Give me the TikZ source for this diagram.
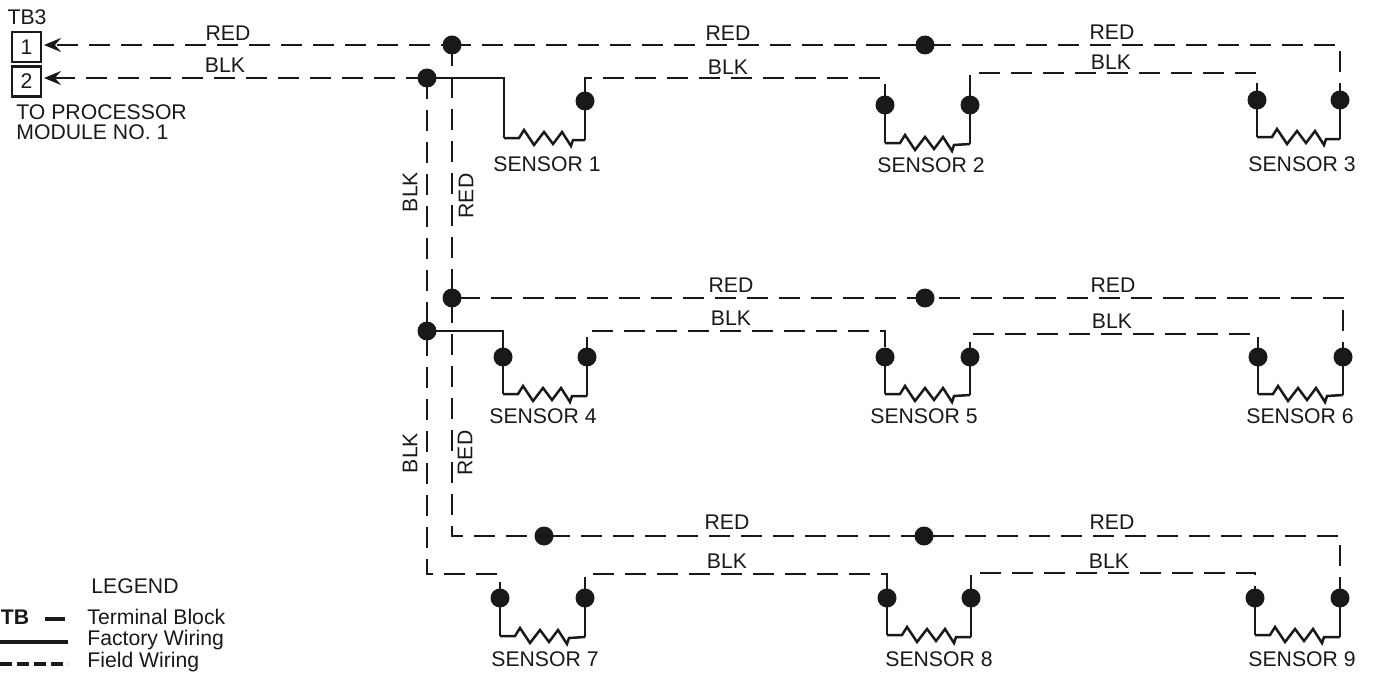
\documentclass[tikz,border=0pt]{standalone}
\usepackage{fontspec}
\setmainfont{Liberation Sans}
\usetikzlibrary{arrows.meta}

\begin{document}
\begin{tikzpicture}[x=0.5pt,y=-0.5pt]
\tikzstyle{every node}+=[inner sep=0pt,font=\fontsize{10.6}{12}\selectfont,text=black!90]
\tikzstyle{dot}=[circle,fill=black!90,minimum size=9.5pt]
\tikzstyle{tbox}=[draw=black!90,line width=1.2pt,minimum width=14.5pt,minimum height=15pt]
\tikzstyle{factory}=[draw=black!90,line width=1.25pt]
\tikzstyle{field}=[factory,dash pattern=on 10.67pt off 5.33pt]
\tikzstyle{legendline}=[draw=black!90,line width=1.6pt]
\tikzstyle{resistor}=[factory,to path={-- ++(15,0) -- ++(5,-8) -- ++(10,15) -- ++(10,-13) -- ++(9,12) -- ++(9,-12) -- ++(9,14) -- ++(2,-6) -- (\tikztotarget)}]
\tikzstyle{tip}=[-{Stealth[length=8.5pt,width=7pt,inset=3pt]}]
\useasboundingbox (0,0) rectangle (1375,674);
% terminal block
\node [tbox] (tb1) at (26.5,47) {1};
\node [tbox] (tb2) at (26.5,81.5) {2};
\node (tb3) at (27,17) {TB3};
\node [anchor=west] (proca) at (16,112) {TO PROCESSOR};
\node [anchor=west] (procb) at (16,132) {MODULE NO. 1};
\coordinate (tb1a) at (44,45);
\coordinate (tb2a) at (44,78);
% splices
\node [dot] (r1) at (452,45) {};
\node [dot] (r1b) at (925,45) {};
\node [dot] (bk1) at (427,78) {};
\node [dot] (r2) at (452,298) {};
\node [dot] (r2b) at (925,298) {};
\node [dot] (bk2) at (427,331) {};
\node [dot] (r3) at (544,536) {};
\node [dot] (r3b) at (924,536) {};
% sensor terminals
\node [dot] (s1r) at (585,101) {};
\node [dot] (s2l) at (885,105) {};
\node [dot] (s2r) at (970,105) {};
\node [dot] (s3l) at (1257,100) {};
\node [dot] (s3r) at (1340,100) {};
\node [dot] (s4l) at (503,357) {};
\node [dot] (s4r) at (587,357) {};
\node [dot] (s5l) at (885,357) {};
\node [dot] (s5r) at (970,357) {};
\node [dot] (s6l) at (1258,357) {};
\node [dot] (s6r) at (1343,357) {};
\node [dot] (s7l) at (500,598) {};
\node [dot] (s7r) at (585,598) {};
\node [dot] (s8l) at (887,598) {};
\node [dot] (s8r) at (971,598) {};
\node [dot] (s9l) at (1255,598) {};
\node [dot] (s9r) at (1340,598) {};
% main runs
\draw [field,tip,dash phase=5pt] (r1.center) -- (tb1a);
\draw [field,tip] (bk1.center) -- (tb2a);
\coordinate (r1c) at (1340,45);
\draw [field,dash phase=1pt] (r1.center) -- (r1b.center) -- (r1c) -- (s3r.center);
\draw [field] (r1.center) -- (r2.center);
\draw [field] (bk1.center) -- (bk2.center);
\coordinate (r2c) at (1343,298);
\draw [field,dash phase=12.5pt] (r2.center) -- (r2b.center) -- (r2c) -- (s6r.center);
\coordinate (r3c) at (452,536);
\draw [field,dash phase=14pt] (r2.center) -- (r3c) -- (r3.center);
\coordinate (r3d) at (1340,536);
\draw [field,dash phase=13.5pt] (r3.center) -- (r3b.center) -- (r3d) -- (s9r.center);
\coordinate (bk3c) at (427,574);
\coordinate (bk3d) at (500,574);
\draw [field,dash phase=14pt] (bk2.center) -- (bk3c) -- (bk3d) -- (s7l.center);
% sensor 1 to 3
\coordinate (s1tl) at (504,78);
\coordinate (s1bl) at (504,138);
\coordinate (s1br) at (585,140);
\draw [factory] (bk1.center) -- (s1tl) -- (s1bl);
\draw [resistor] (s1bl) to (s1br);
\draw [factory] (s1br) -- (s1r.center);
\coordinate (s1tr) at (585,78);
\coordinate (s2tl) at (885,78);
\draw [field,dash phase=11.5pt] (s1r.center) -- (s1tr) -- (s2tl) -- (s2l.center);
\coordinate (s2bl) at (885,143);
\coordinate (s2br) at (970,144);
\draw [factory] (s2l.center) -- (s2bl);
\draw [resistor] (s2bl) to (s2br);
\draw [factory] (s2br) -- (s2r.center);
\coordinate (s2tr) at (970,73);
\coordinate (s3tl) at (1257,73);
\draw [field,dash phase=11.5pt] (s2r.center) -- (s2tr) -- (s3tl) -- (s3l.center);
\coordinate (s3bl) at (1257,137);
\coordinate (s3br) at (1340,139);
\draw [factory] (s3l.center) -- (s3bl);
\draw [resistor] (s3bl) to (s3br);
\draw [factory] (s3br) -- (s3r.center);
% sensor 4 to 6
\coordinate (s4tl) at (503,331);
\coordinate (s4bl) at (503,394);
\coordinate (s4br) at (587,396);
\draw [factory] (bk2.center) -- (s4tl) -- (s4l.center) -- (s4bl);
\draw [resistor] (s4bl) to (s4br);
\draw [factory] (s4br) -- (s4r.center);
\coordinate (s4tr) at (587,331);
\coordinate (s5tl) at (885,331);
\draw [field,dash phase=0.5pt] (s4r.center) -- (s4tr) -- (s5tl) -- (s5l.center);
\coordinate (s5bl) at (885,394);
\coordinate (s5br) at (970,395);
\draw [factory] (s5l.center) -- (s5bl);
\draw [resistor] (s5bl) to (s5br);
\draw [factory] (s5br) -- (s5r.center);
\coordinate (s5tr) at (970,334);
\coordinate (s6tl) at (1258,334);
\draw [field,dash phase=3pt] (s5r.center) -- (s5tr) -- (s6tl) -- (s6l.center);
\coordinate (s6bl) at (1258,394);
\coordinate (s6br) at (1343,395);
\draw [factory] (s6l.center) -- (s6bl);
\draw [resistor] (s6bl) to (s6br);
\draw [factory] (s6br) -- (s6r.center);
% sensor 7 to 9
\coordinate (s7bl) at (500,636);
\coordinate (s7br) at (585,637);
\draw [factory] (s7l.center) -- (s7bl);
\draw [resistor] (s7bl) to (s7br);
\draw [factory] (s7br) -- (s7r.center);
\coordinate (s7tr) at (585,574);
\coordinate (s8tl) at (887,574);
\draw [field] (s7r.center) -- (s7tr) -- (s8tl) -- (s8l.center);
\coordinate (s8bl) at (887,635);
\coordinate (s8br) at (971,637);
\draw [factory] (s8l.center) -- (s8bl);
\draw [resistor] (s8bl) to (s8br);
\draw [factory] (s8br) -- (s8r.center);
\coordinate (s8tr) at (971,573);
\coordinate (s9tl) at (1255,573);
\draw [field,dash phase=15pt] (s8r.center) -- (s8tr) -- (s9tl) -- (s9l.center);
\coordinate (s9bl) at (1255,635);
\coordinate (s9br) at (1340,637);
\draw [factory] (s9l.center) -- (s9bl);
\draw [resistor] (s9bl) to (s9br);
\draw [factory] (s9br) -- (s9r.center);
% sensor names
\node (sn1) at (547,164) {SENSOR 1};
\node (sn2) at (931,165) {SENSOR 2};
\node (sn3) at (1302,164) {SENSOR 3};
\node (sn4) at (543,416) {SENSOR 4};
\node (sn5) at (924,416) {SENSOR 5};
\node (sn6) at (1300,416) {SENSOR 6};
\node (sn7) at (545,659) {SENSOR 7};
\node (sn8) at (939,659) {SENSOR 8};
\node (sn9) at (1302,659) {SENSOR 9};
% wire colours
\node (lr1) at (228,33) {RED};
\node (lb1) at (225,65) {BLK};
\node (lr2) at (728,33) {RED};
\node (lb2) at (728,67) {BLK};
\node (lr3) at (1112,32) {RED};
\node (lb3) at (1111,62) {BLK};
\node (lr4) at (731,285) {RED};
\node (lb4) at (731,318) {BLK};
\node (lr5) at (1113,285) {RED};
\node (lb5) at (1112,321) {BLK};
\node (lr6) at (727,522) {RED};
\node (lb6) at (727,561) {BLK};
\node (lr7) at (1112,522) {RED};
\node (lb7) at (1109,561) {BLK};
\node [rotate=90] (lv1) at (410,192) {BLK};
\node [rotate=90] (lv2) at (466,196) {RED};
\node [rotate=90] (lv3) at (410,453) {BLK};
\node [rotate=90] (lv4) at (465,453) {RED};
% legend
\node (lgd) at (135,586) {LEGEND};
\node [anchor=base west,font=\fontsize{10.6}{12}\selectfont\bfseries] (lgtb) at (0.5,624) {TB};
\node [anchor=base west] (lgta) at (87,624) {Terminal Block};
\node [anchor=base west] (lgtf) at (87,645) {Factory Wiring};
\node [anchor=base west] (lgtw) at (87,667) {Field Wiring};
\coordinate (lga) at (45,619);
\coordinate (lgb) at (65,619);
\draw [legendline] (lga) -- (lgb);
\coordinate (lgc) at (0,642);
\coordinate (lgd2) at (68,642);
\draw [legendline] (lgc) -- (lgd2);
\coordinate (lge) at (0,664);
\coordinate (lgf) at (68,664);
\draw [legendline,dash pattern=on 6pt off 2.5pt] (lge) -- (lgf);
\end{tikzpicture}
\end{document}
